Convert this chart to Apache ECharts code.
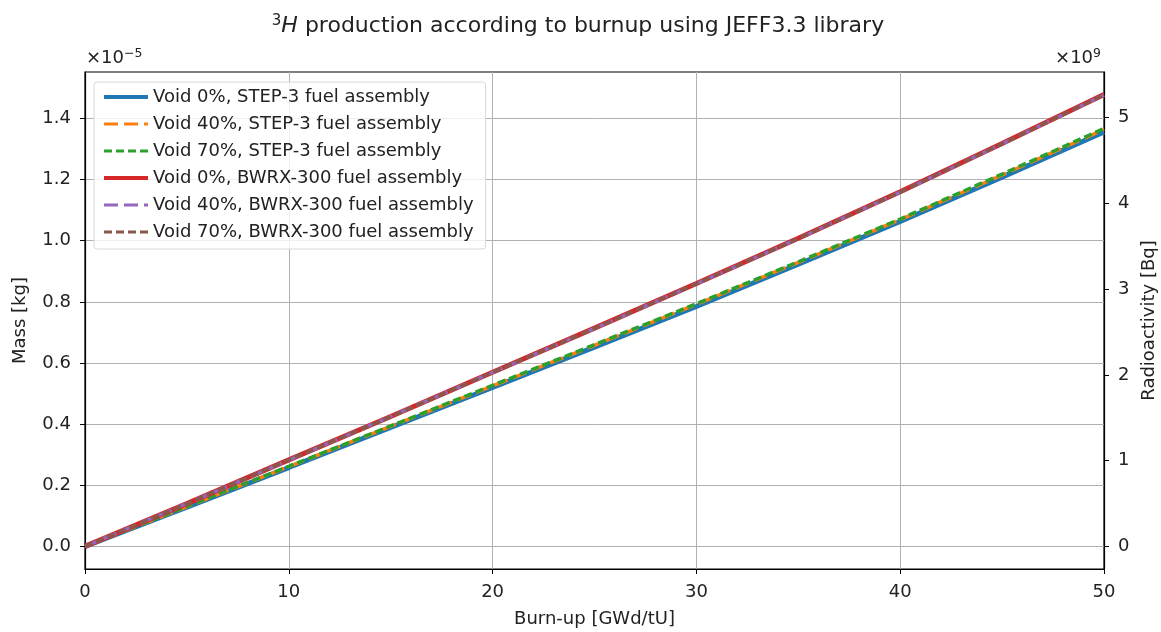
<!DOCTYPE html>
<html>
<head>
<meta charset="utf-8">
<script src="https://cdn.jsdelivr.net/npm/echarts@6/dist/echarts.min.js"></script>
<style>
  html, body { margin: 0; padding: 0; background: #fff; }
  #chart { width: 1161px; height: 632px; }
</style>
</head>
<body>
<div id="chart"></div>
<script>
  // burn-up steps [GWd/tU]
  const burnup = [0, 5, 10, 15, 20, 25, 30, 35, 40, 45, 50]
  // 3H mass, in units of 1e-5 kg
  const step3Void0 = [0, 0.128, 0.258, 0.389, 0.520, 0.652, 0.785, 0.923, 1.063, 1.208, 1.356]
  const step3Void40 = [0, 0.130, 0.261, 0.393, 0.525, 0.658, 0.792, 0.929, 1.069, 1.215, 1.364]
  const step3Void70 = [0, 0.131, 0.262, 0.394, 0.527, 0.660, 0.794, 0.931, 1.071, 1.218, 1.367]
  const bwrxVoid0 = [0, 0.140, 0.283, 0.425, 0.570, 0.714, 0.860, 1.008, 1.160, 1.318, 1.478]
  const bwrxVoid40 = [0, 0.140, 0.282, 0.425, 0.569, 0.713, 0.859, 1.007, 1.159, 1.317, 1.477]
  const bwrxVoid70 = [0, 0.140, 0.283, 0.424, 0.569, 0.713, 0.859, 1.007, 1.159, 1.317, 1.477]

  const massTicks = [0, 0.2, 0.4, 0.6, 0.8, 1.0, 1.2, 1.4]
  const activityTicks = [0, 1, 2, 3, 4, 5]

  const font = 'DejaVu Sans'
  const fs = 18
  const pairs = (ys) => burnup.map((x, i) => [x, ys[i]])

  // [name, data, colour, width, dash]
  const lines = [
    ['Void 0%, STEP-3 fuel assembly', step3Void0, '#1f77b4', 5, 'solid'],
    ['Void 40%, STEP-3 fuel assembly', step3Void40, '#ff7f0e', 3.5, [14, 6]],
    ['Void 70%, STEP-3 fuel assembly', step3Void70, '#2ca02c', 3.5, [8, 4]],
    ['Void 0%, BWRX-300 fuel assembly', bwrxVoid0, '#d62728', 5, 'solid'],
    ['Void 40%, BWRX-300 fuel assembly', bwrxVoid40, '#9467bd', 3.5, [14, 6]],
    ['Void 70%, BWRX-300 fuel assembly', bwrxVoid70, '#8c564b', 3.5, [8, 4]]
  ]

  let myChart = echarts.init(document.getElementById('chart'))
  let option = {
    animation: false,
    title: {
      text: '{sup|3}{it|H} production according to burnup using JEFF3.3 library',
      left: 573, top: 9, textAlign: 'center',
      textStyle: {
        fontFamily: font, fontSize: 22, fontWeight: 'normal', color: '#222',
        rich: {
          sup: { fontFamily: font, fontSize: 15, color: '#222', verticalAlign: 'top', padding: [0, 0, 10, 0] },
          it: { fontFamily: font, fontSize: 22, fontStyle: 'italic', color: '#222' }
        }
      }
    },
    grid: { left: 85, right: 57, top: 72, bottom: 63, outerBoundsMode: 'none', containLabel: false,
      show: true, borderColor: '#000', borderWidth: 1.2, backgroundColor: 'transparent' },
    legend: {
      left: 94, top: 82, orient: 'vertical',
      itemGap: 9, itemWidth: 44, itemHeight: 18,
      padding: [6, 12, 8, 8],
      backgroundColor: 'rgba(255,255,255,0.8)',
      borderColor: '#d8d8d8', borderWidth: 1, borderRadius: 3,
      itemStyle: { opacity: 0, color: 'transparent', borderWidth: 0 },
      textStyle: { fontFamily: font, fontSize: fs, color: '#222' },
      data: lines.map((l) => ({
        name: l[0],
        lineStyle: { color: l[2], width: l[3] === 5 ? 4 : 3, type: l[4] }
      }))
    },
    xAxis: {
      type: 'value', min: 0, max: 50, interval: 10,
      name: 'Burn-up [GWd/tU]', nameLocation: 'middle', nameGap: 41,
      nameTextStyle: { fontFamily: font, fontSize: fs, color: '#222' },
      axisLine: { onZero: false, lineStyle: { color: '#000', width: 1.2 } },
      axisTick: { show: true, length: 5, lineStyle: { color: '#000' } },
      axisLabel: { fontFamily: font, fontSize: fs, color: '#222', margin: 14 },
      splitLine: { show: true, lineStyle: { color: '#b0b0b0', width: 1 } }
    },
    yAxis: [
      {
        type: 'value', min: -0.0739, max: 1.552,
        name: 'Mass [kg]', nameLocation: 'middle', nameGap: 56,
        nameTextStyle: { fontFamily: font, fontSize: fs, color: '#222' },
        axisLine: { show: true, onZero: false, lineStyle: { color: '#000', width: 1.2 } },
        axisTick: { show: true, length: 5, customValues: massTicks, lineStyle: { color: '#000' } },
        axisLabel: { fontFamily: font, fontSize: fs, color: '#222', margin: 14, customValues: massTicks,
          formatter: (v) => v.toFixed(1) },
        splitLine: { show: true, customValues: massTicks, lineStyle: { color: '#b0b0b0', width: 1 } }
      },
      {
        type: 'value', min: -0.263, max: 5.53, position: 'right',
        name: 'Radioactivity [Bq]', nameLocation: 'middle', nameGap: 32,
        nameTextStyle: { fontFamily: font, fontSize: fs, color: '#222' },
        axisLine: { show: true, onZero: false, lineStyle: { color: '#000', width: 1.2 } },
        axisTick: { show: true, length: 5, customValues: activityTicks, lineStyle: { color: '#000' } },
        axisLabel: { fontFamily: font, fontSize: fs, color: '#222', margin: 14, customValues: activityTicks },
        splitLine: { show: false }
      }
    ],
    graphic: [
      { type: 'text', left: 86, top: 47, style: { text: '×10{s|−5}', fontFamily: font, fontSize: fs, fill: '#222',
        rich: { s: { fontFamily: font, fontSize: 12.5, fill: '#222', verticalAlign: 'top', padding: [0, 0, 9, 0] } } } },
      { type: 'text', right: 60, top: 47, style: { text: '×10{s|9}', fontFamily: font, fontSize: fs, fill: '#222',
        rich: { s: { fontFamily: font, fontSize: 12.5, fill: '#222', verticalAlign: 'top', padding: [0, 0, 9, 0] } } } }
    ],
    series: lines.map((l, i) => ({
      name: l[0],
      type: 'line',
      data: pairs(l[1]),
      showSymbol: false,
      symbol: 'none',
      z: 2 + i,
      itemStyle: { color: l[2] },
      lineStyle: { color: l[2], width: l[3], type: l[4] },
      emphasis: { disabled: true }
    }))
  }

  myChart.setOption(option)
</script>
</body>
</html>
